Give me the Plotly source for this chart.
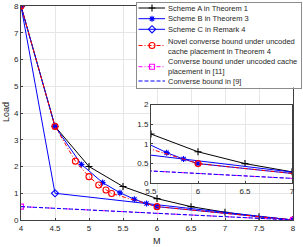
import plotly.graph_objects as go

W, H = 303, 247

# ---------------- data ----------------
M_A = [4, 4.5, 5, 5.5, 6, 6.5, 7, 7.5, 8]
L_A = [8, 3.5, 2.0, 1.25, 0.8, 0.5, 0.29, 0.125, 0]

M_B = [4, 4.5, 4.889, 5.2, 5.455, 5.667, 5.846, 6, 8]
L_B = [8, 3.5, 2.074, 1.4, 1.018, 0.778, 0.615, 0.5, 0]

M_C = [4, 4.5, 8]
L_C = [8, 1.0, 0]

M_N = [4, 4.5, 4.8, 5.0, 5.143, 5.25, 5.333, 6, 8]
L_N = [8, 3.5, 2.2, 1.62, 1.31, 1.12, 0.99, 0.5, 0]

M_U = [4, 8]
L_U = [0.5, 0]

M_9 = [4, 8]
L_9 = [0.5, 0]

x_ticks = [4, 4.5, 5, 5.5, 6, 6.5, 7, 7.5, 8]
x_ticktext = ["4", "4.5", "5", "5.5", "6", "6.5", "7", "7.5", "8"]
y_ticks = [0, 1, 2, 3, 4, 5, 6, 7, 8]
ix_ticks = [5.5, 6, 6.5, 7]
ix_ticktext = ["5.5", "6", "6.5", "7"]
iy_ticks = [0, 0.5, 1, 1.5, 2]
iy_ticktext = ["0", "0.5", "1", "1.5", "2"]

legend_names = [
    "Scheme A in Theorem 1",
    "Scheme B in Theorem 3",
    "Scheme C in Remark 4",
    "Novel converse bound under uncoded<br>cache placement in Theorem 4",
    "Converse bound under uncoded cache<br>placement in [11]",
    "Converse bound in [9]",
]

# ---------------- styles ----------------
styles = [
    dict(x=M_A, y=L_A, color="#000000", dash="solid", symbol="cross-thin-open", size=5, mode="lines+markers"),
    dict(x=M_B, y=L_B, color="#0000ff", dash="solid", symbol="asterisk-open", size=5, mode="lines+markers"),
    dict(x=M_C, y=L_C, color="#0000ff", dash="solid", symbol="diamond-open", size=5.5, mode="lines+markers"),
    dict(x=M_N, y=L_N, color="#ff0000", dash="4px,2px,1px,2px", symbol="circle-open", size=6, mode="lines+markers"),
    dict(x=M_U, y=L_U, color="#ff00ff", dash="4px,2px,1px,2px", symbol="square-open", size=5, mode="lines+markers"),
    dict(x=M_9, y=L_9, color="#0000ff", dash="4px,2px", symbol="circle", size=0, mode="lines"),
]

FONT = "Liberation Sans, Arial, Helvetica, sans-serif"
TXT = "#262626"
AX = "#404040"
GRID = "#e6e6e6"

fig = go.Figure()

for xa, ya in (("x", "y"), ("x2", "y2")):
    for s in styles:
        fig.add_trace(go.Scatter(
            x=s["x"], y=s["y"], mode=s["mode"], xaxis=xa, yaxis=ya,
            line=dict(color=s["color"], width=1, dash=s["dash"]),
            marker=dict(symbol=s["symbol"], size=s["size"], color=s["color"],
                        line=dict(color=s["color"], width=1.1)),
            showlegend=False, hoverinfo="skip",
        ))

# ---------------- manual legend (pixel-space subplot x3/y3) ----------------
LEG_X0, LEG_X1, LEG_Y0, LEG_Y1 = 137, 301, 2.5, 87.5
key_rows = [8, 18.7, 29.3, 45.5, 66.7, 81]
text_rows = [8, 18.7, 29.3, 46.5, 66.7, 81]
for s, yr in zip(styles, key_rows):
    fig.add_trace(go.Scatter(
        x=[138.5, 165], y=[yr, yr], mode="lines", xaxis="x3", yaxis="y3",
        line=dict(color=s["color"], width=1, dash=s["dash"]),
        showlegend=False, hoverinfo="skip", cliponaxis=False,
    ))
    if s["mode"] != "lines":
        fig.add_trace(go.Scatter(
            x=[152], y=[yr], mode="markers", xaxis="x3", yaxis="y3",
            marker=dict(symbol=s["symbol"], size=s["size"], color=s["color"],
                        line=dict(color=s["color"], width=1.1)),
            showlegend=False, hoverinfo="skip", cliponaxis=False,
        ))

annotations = []
for name, yr in zip(legend_names, text_rows):
    annotations.append(dict(
        x=166, y=yr, xref="x3", yref="y3", text=name, showarrow=False,
        xanchor="left", yanchor="middle", align="left",
        font=dict(family=FONT, size=7.5, color=TXT),
    ))

annotations.append(dict(x=6 / W, y=1 - 112 / H, xref="paper", yref="paper", text="Load",
                        showarrow=False, textangle=-90, xanchor="center", yanchor="middle",
                        font=dict(family=FONT, size=9, color=TXT)))
annotations.append(dict(x=157 / W, y=1 - 240.5 / H, xref="paper", yref="paper", text="M",
                        showarrow=False, xanchor="center", yanchor="middle",
                        font=dict(family=FONT, size=9, color=TXT)))

common_axis = dict(
    showgrid=True, gridcolor=GRID, gridwidth=1, zeroline=False,
    showline=True, mirror=True, linecolor=AX, linewidth=1,
    ticks="inside", ticklen=2, tickcolor=AX, tickwidth=1,
    tickfont=dict(family=FONT, size=8, color=TXT), automargin=False,
)

fig.update_layout(
    width=W, height=H,
    margin=dict(l=0, r=0, t=0, b=0),
    paper_bgcolor="white", plot_bgcolor="white",
    showlegend=False,
    annotations=annotations,
    xaxis=dict(domain=[21 / W, 293 / W], range=[4, 8], tickvals=x_ticks, ticktext=x_ticktext,
               anchor="y", **common_axis),
    yaxis=dict(domain=[1 - 220 / H, 1 - 6 / H], range=[0, 8], tickvals=y_ticks,
               anchor="x", **common_axis),
    xaxis2=dict(domain=[151 / W, 292 / W], range=[5.5, 7], tickvals=ix_ticks, ticktext=ix_ticktext,
                anchor="y2", **common_axis),
    yaxis2=dict(domain=[1 - 183.3 / H, 1 - 104.5 / H], range=[0, 2], tickvals=iy_ticks,
                ticktext=iy_ticktext, anchor="x2", **common_axis),
    xaxis3=dict(domain=[LEG_X0 / W, LEG_X1 / W], range=[LEG_X0, LEG_X1], anchor="y3",
                showgrid=False, zeroline=False, showticklabels=False, ticks="",
                showline=True, mirror=True, linecolor="#8c8c8c", linewidth=1, automargin=False),
    yaxis3=dict(domain=[1 - LEG_Y1 / H, 1 - LEG_Y0 / H], range=[LEG_Y1, LEG_Y0], anchor="x3",
                showgrid=False, zeroline=False, showticklabels=False, ticks="",
                showline=True, mirror=True, linecolor="#8c8c8c", linewidth=1, automargin=False),
)

fig.write_html(
    "out.html",
    config={"displayModeBar": False},
    post_script="document.body.style.margin='0';document.body.style.overflow='hidden';",
)
